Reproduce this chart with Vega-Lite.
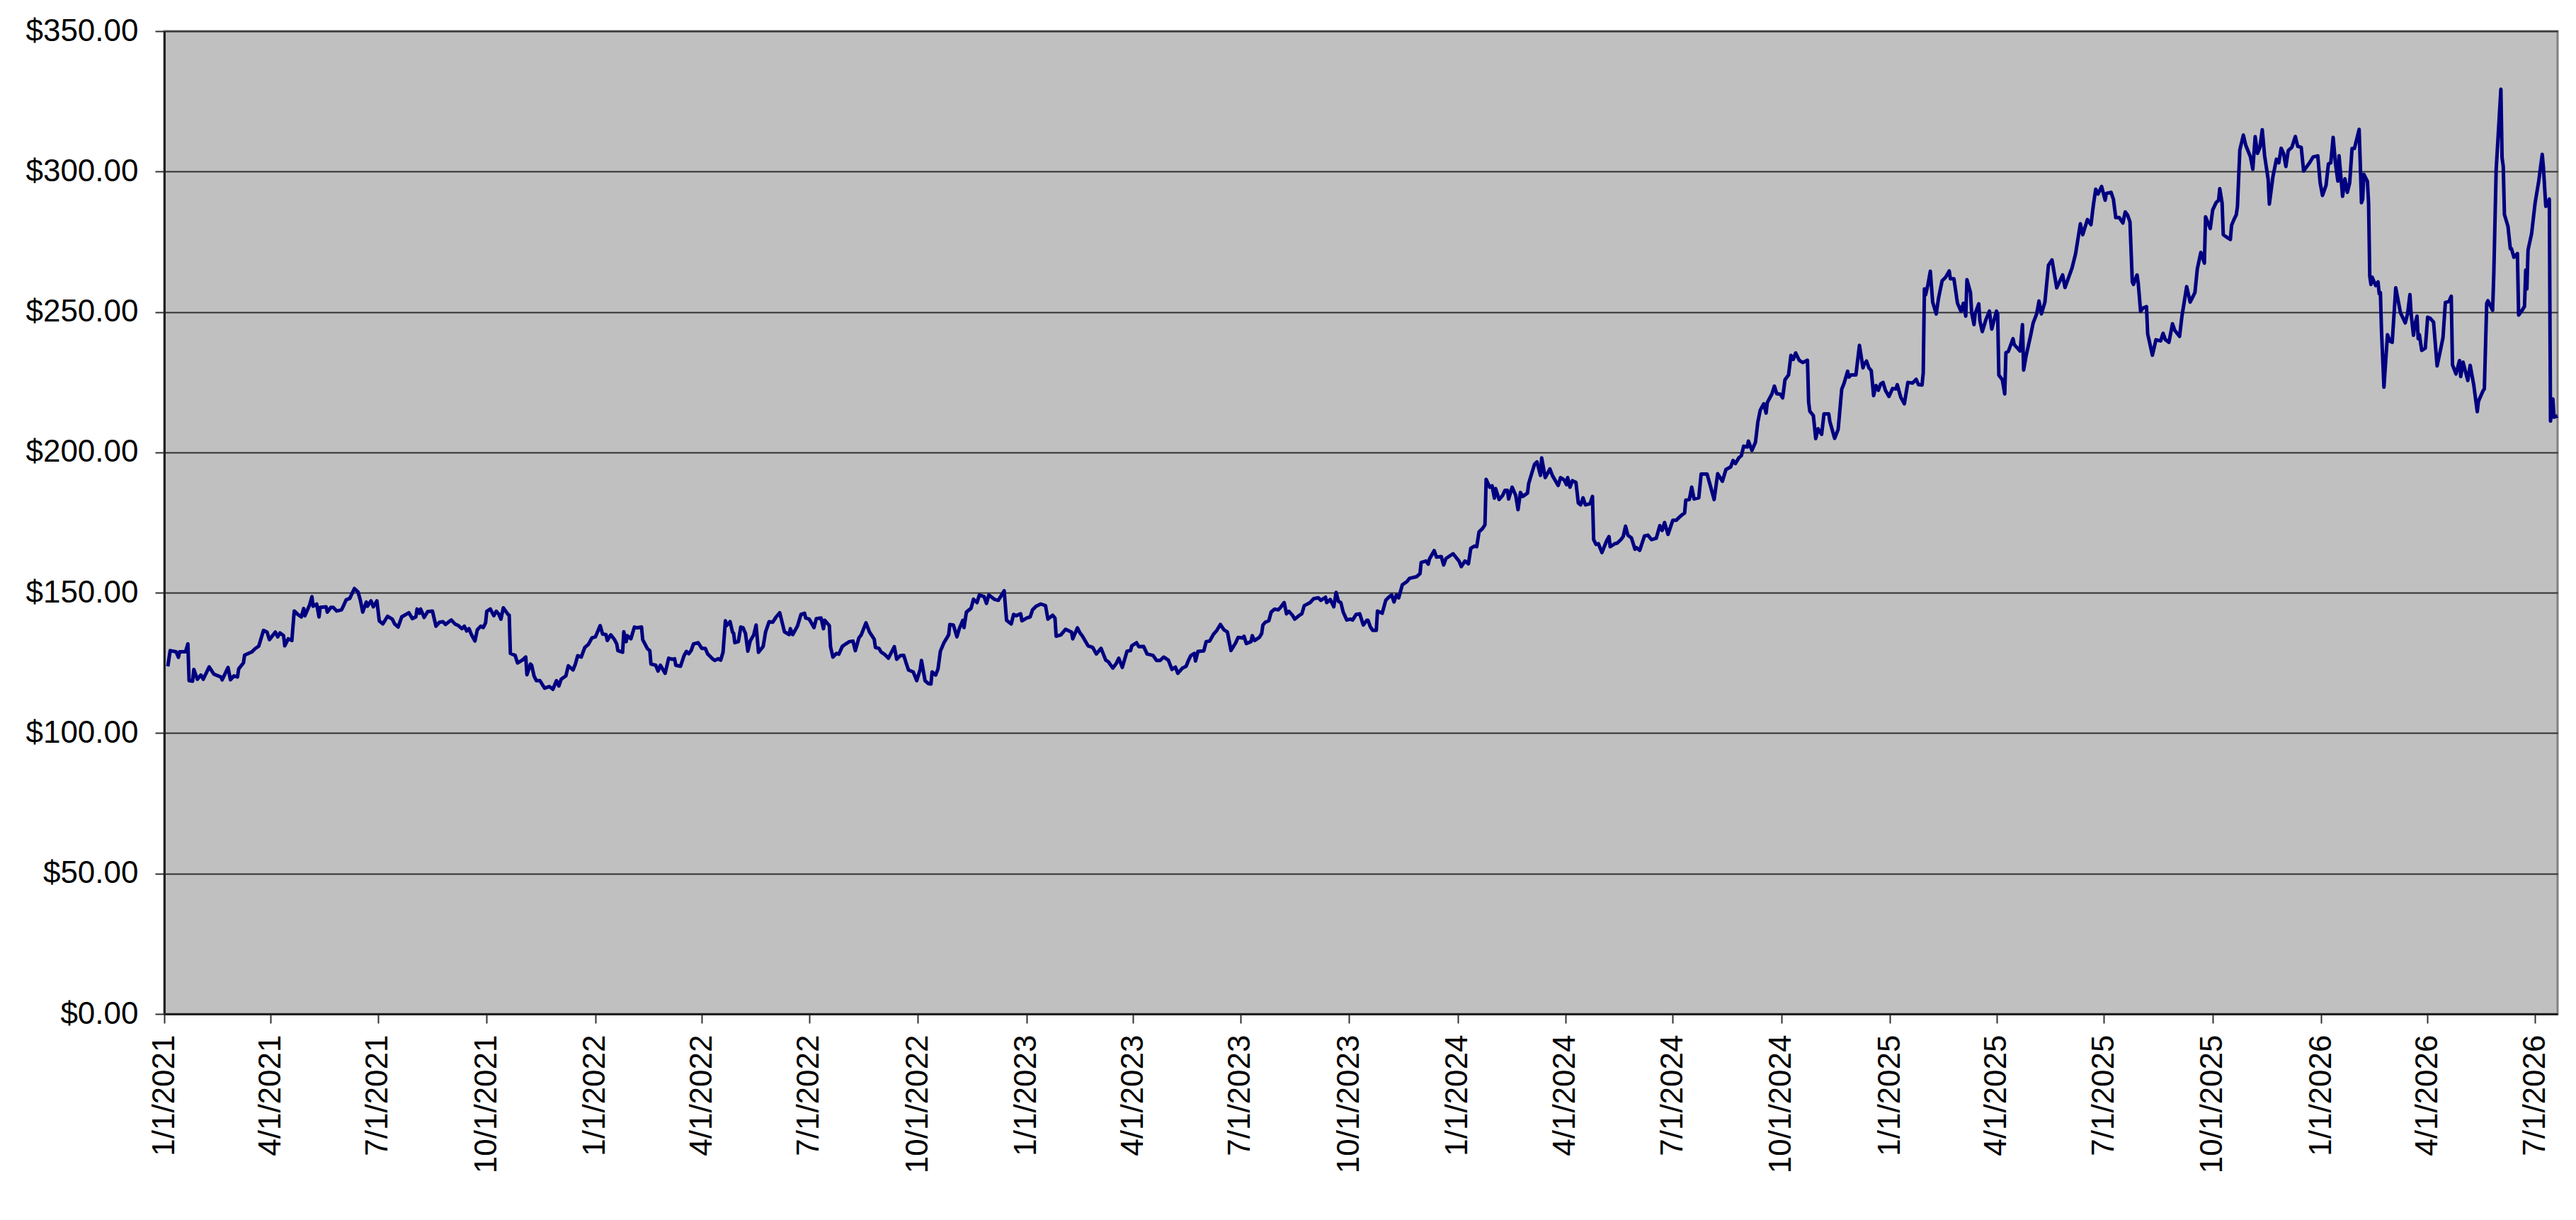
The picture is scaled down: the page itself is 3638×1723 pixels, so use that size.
{
  "$schema": "https://vega.github.io/schema/vega-lite/v6.json",
  "description": "Daily closing price, 2021 to mid-2026",
  "autosize": "none",
  "width": 3380,
  "height": 1388,
  "padding": {"left": 232, "top": 44, "right": 26, "bottom": 291},
  "background": "white",
  "config": {
    "font": "Liberation Sans",
    "view": {"fill": "#c0c0c0", "stroke": "#808080", "strokeWidth": 3},
    "axis": {
      "domainColor": "#202020",
      "domainWidth": 3,
      "tickColor": "#303030",
      "tickWidth": 2,
      "tickSize": 13,
      "labelColor": "black",
      "labelFont": "Liberation Sans",
      "labelFontSize": 44,
      "labelLimit": 0,
      "title": null
    }
  },
  "data": {
    "values": [
      {"date": "2021-01-04", "price": 123.8}, {"date": "2021-01-06", "price": 129.4}, {"date": "2021-01-11", "price": 129}, {"date": "2021-01-13", "price": 127}, {"date": "2021-01-14", "price": 129}, {"date": "2021-01-19", "price": 129}, {"date": "2021-01-21", "price": 131.8}, {"date": "2021-01-22", "price": 118.7}, {"date": "2021-01-25", "price": 118.5}, {"date": "2021-01-26", "price": 122.7}, {"date": "2021-01-29", "price": 119.2},
      {"date": "2021-02-01", "price": 120.7}, {"date": "2021-02-03", "price": 119.2}, {"date": "2021-02-08", "price": 123.6}, {"date": "2021-02-12", "price": 121}, {"date": "2021-02-18", "price": 120}, {"date": "2021-02-19", "price": 119}, {"date": "2021-02-24", "price": 123.4}, {"date": "2021-02-26", "price": 119},
      {"date": "2021-03-01", "price": 120.4}, {"date": "2021-03-04", "price": 120}, {"date": "2021-03-05", "price": 122.9}, {"date": "2021-03-09", "price": 125}, {"date": "2021-03-10", "price": 127.8}, {"date": "2021-03-16", "price": 128.9}, {"date": "2021-03-19", "price": 130.1}, {"date": "2021-03-22", "price": 131}, {"date": "2021-03-26", "price": 136.6}, {"date": "2021-03-29", "price": 136}, {"date": "2021-03-31", "price": 133.3},
      {"date": "2021-04-05", "price": 136}, {"date": "2021-04-07", "price": 134.3}, {"date": "2021-04-09", "price": 135.7}, {"date": "2021-04-12", "price": 134.7}, {"date": "2021-04-13", "price": 131.1}, {"date": "2021-04-16", "price": 133.6}, {"date": "2021-04-19", "price": 133}, {"date": "2021-04-21", "price": 143.5}, {"date": "2021-04-24", "price": 142.3}, {"date": "2021-04-27", "price": 141.4}, {"date": "2021-04-29", "price": 144.4}, {"date": "2021-04-30", "price": 141.8},
      {"date": "2021-05-04", "price": 145.6}, {"date": "2021-05-06", "price": 148.6}, {"date": "2021-05-07", "price": 145.2}, {"date": "2021-05-10", "price": 146}, {"date": "2021-05-12", "price": 141.4}, {"date": "2021-05-13", "price": 144.8}, {"date": "2021-05-18", "price": 145}, {"date": "2021-05-19", "price": 143.1}, {"date": "2021-05-22", "price": 144.8}, {"date": "2021-05-24", "price": 144.8}, {"date": "2021-05-27", "price": 143.5}, {"date": "2021-05-31", "price": 143.9},
      {"date": "2021-06-02", "price": 145.6}, {"date": "2021-06-04", "price": 147.5}, {"date": "2021-06-07", "price": 148}, {"date": "2021-06-09", "price": 149.8}, {"date": "2021-06-11", "price": 151.5}, {"date": "2021-06-14", "price": 150.3}, {"date": "2021-06-16", "price": 147.3}, {"date": "2021-06-18", "price": 143.1}, {"date": "2021-06-21", "price": 146.7}, {"date": "2021-06-22", "price": 145.2}, {"date": "2021-06-25", "price": 147.1}, {"date": "2021-06-27", "price": 145}, {"date": "2021-06-30", "price": 147.1},
      {"date": "2021-07-02", "price": 140}, {"date": "2021-07-05", "price": 138.9}, {"date": "2021-07-09", "price": 141.6}, {"date": "2021-07-13", "price": 140.6}, {"date": "2021-07-15", "price": 138.9}, {"date": "2021-07-18", "price": 137.8}, {"date": "2021-07-21", "price": 141.4}, {"date": "2021-07-25", "price": 142.4}, {"date": "2021-07-27", "price": 142.9}, {"date": "2021-07-30", "price": 140.8},
      {"date": "2021-08-02", "price": 141.4}, {"date": "2021-08-03", "price": 144.2}, {"date": "2021-08-05", "price": 142.7}, {"date": "2021-08-06", "price": 144.2}, {"date": "2021-08-09", "price": 141.2}, {"date": "2021-08-12", "price": 143.3}, {"date": "2021-08-16", "price": 143.5}, {"date": "2021-08-19", "price": 138.1}, {"date": "2021-08-22", "price": 139.5}, {"date": "2021-08-25", "price": 139.7}, {"date": "2021-08-27", "price": 138.7}, {"date": "2021-08-30", "price": 139.7},
      {"date": "2021-09-01", "price": 140.3}, {"date": "2021-09-04", "price": 138.9}, {"date": "2021-09-07", "price": 138.3}, {"date": "2021-09-10", "price": 137.2}, {"date": "2021-09-12", "price": 138.1}, {"date": "2021-09-14", "price": 136.4}, {"date": "2021-09-16", "price": 137.2}, {"date": "2021-09-18", "price": 135.1}, {"date": "2021-09-21", "price": 132.8}, {"date": "2021-09-23", "price": 136.8}, {"date": "2021-09-26", "price": 138.1}, {"date": "2021-09-28", "price": 137.6}, {"date": "2021-09-30", "price": 139.3},
      {"date": "2021-10-01", "price": 143.4}, {"date": "2021-10-04", "price": 144.2}, {"date": "2021-10-07", "price": 141.8}, {"date": "2021-10-09", "price": 143.4}, {"date": "2021-10-11", "price": 142.5}, {"date": "2021-10-13", "price": 140.6}, {"date": "2021-10-15", "price": 144.6}, {"date": "2021-10-19", "price": 142.3}, {"date": "2021-10-20", "price": 142}, {"date": "2021-10-21", "price": 128.4}, {"date": "2021-10-25", "price": 127.7}, {"date": "2021-10-27", "price": 125}, {"date": "2021-10-31", "price": 126},
      {"date": "2021-11-03", "price": 127.1}, {"date": "2021-11-04", "price": 120.8}, {"date": "2021-11-07", "price": 124.6}, {"date": "2021-11-08", "price": 124.2}, {"date": "2021-11-10", "price": 120.4}, {"date": "2021-11-12", "price": 118.7}, {"date": "2021-11-15", "price": 118.7}, {"date": "2021-11-19", "price": 116}, {"date": "2021-11-23", "price": 116.6}, {"date": "2021-11-26", "price": 115.6}, {"date": "2021-11-29", "price": 118.7},
      {"date": "2021-12-01", "price": 116.8}, {"date": "2021-12-03", "price": 119.2}, {"date": "2021-12-07", "price": 120.4}, {"date": "2021-12-09", "price": 124}, {"date": "2021-12-13", "price": 122.5}, {"date": "2021-12-15", "price": 124.6}, {"date": "2021-12-17", "price": 127.6}, {"date": "2021-12-20", "price": 127.1}, {"date": "2021-12-23", "price": 130.5}, {"date": "2021-12-26", "price": 131.6}, {"date": "2021-12-29", "price": 133.9},
      {"date": "2022-01-01", "price": 134.3}, {"date": "2022-01-05", "price": 138.3}, {"date": "2022-01-07", "price": 135.3}, {"date": "2022-01-10", "price": 135.1}, {"date": "2022-01-11", "price": 133}, {"date": "2022-01-14", "price": 135}, {"date": "2022-01-17", "price": 133.4}, {"date": "2022-01-19", "price": 131.8}, {"date": "2022-01-20", "price": 129.4}, {"date": "2022-01-24", "price": 128.8}, {"date": "2022-01-25", "price": 136.1}, {"date": "2022-01-27", "price": 132.6}, {"date": "2022-01-28", "price": 134.7}, {"date": "2022-01-31", "price": 133.6},
      {"date": "2022-02-03", "price": 137.8}, {"date": "2022-02-05", "price": 137.5}, {"date": "2022-02-09", "price": 137.8}, {"date": "2022-02-10", "price": 133.3}, {"date": "2022-02-14", "price": 130.1}, {"date": "2022-02-16", "price": 129.4}, {"date": "2022-02-17", "price": 124.6}, {"date": "2022-02-21", "price": 124.2}, {"date": "2022-02-23", "price": 122.1}, {"date": "2022-02-25", "price": 124.2},
      {"date": "2022-03-01", "price": 121.3}, {"date": "2022-03-04", "price": 126.7}, {"date": "2022-03-07", "price": 126.3}, {"date": "2022-03-09", "price": 126.5}, {"date": "2022-03-10", "price": 124.2}, {"date": "2022-03-14", "price": 123.8}, {"date": "2022-03-17", "price": 127.6}, {"date": "2022-03-19", "price": 129.1}, {"date": "2022-03-21", "price": 128.3}, {"date": "2022-03-23", "price": 129.4}, {"date": "2022-03-25", "price": 131.8}, {"date": "2022-03-29", "price": 132.2},
      {"date": "2022-04-01", "price": 130.2}, {"date": "2022-04-04", "price": 130.2}, {"date": "2022-04-06", "price": 128.2}, {"date": "2022-04-10", "price": 126.5}, {"date": "2022-04-12", "price": 125.9}, {"date": "2022-04-15", "price": 126.5}, {"date": "2022-04-17", "price": 126}, {"date": "2022-04-19", "price": 128.8}, {"date": "2022-04-21", "price": 140}, {"date": "2022-04-22", "price": 138.3}, {"date": "2022-04-25", "price": 139.7}, {"date": "2022-04-27", "price": 136}, {"date": "2022-04-28", "price": 135.5}, {"date": "2022-04-29", "price": 132.2},
      {"date": "2022-05-02", "price": 132.6}, {"date": "2022-05-04", "price": 137.8}, {"date": "2022-05-06", "price": 137.5}, {"date": "2022-05-08", "price": 135.5}, {"date": "2022-05-10", "price": 129.2}, {"date": "2022-05-12", "price": 132.8}, {"date": "2022-05-15", "price": 135}, {"date": "2022-05-17", "price": 138.5}, {"date": "2022-05-19", "price": 128.8}, {"date": "2022-05-23", "price": 130.9}, {"date": "2022-05-25", "price": 136}, {"date": "2022-05-28", "price": 139.7}, {"date": "2022-05-31", "price": 139.5},
      {"date": "2022-06-03", "price": 141.4}, {"date": "2022-06-06", "price": 142.9}, {"date": "2022-06-10", "price": 136.1}, {"date": "2022-06-14", "price": 135.1}, {"date": "2022-06-15", "price": 137.2}, {"date": "2022-06-17", "price": 135.1}, {"date": "2022-06-21", "price": 138.1}, {"date": "2022-06-24", "price": 142.3}, {"date": "2022-06-27", "price": 142.7}, {"date": "2022-06-28", "price": 141},
      {"date": "2022-07-01", "price": 140.6}, {"date": "2022-07-05", "price": 137.6}, {"date": "2022-07-07", "price": 140.8}, {"date": "2022-07-11", "price": 141}, {"date": "2022-07-13", "price": 137.2}, {"date": "2022-07-14", "price": 140.2}, {"date": "2022-07-18", "price": 138.3}, {"date": "2022-07-19", "price": 130.8}, {"date": "2022-07-21", "price": 127.1}, {"date": "2022-07-24", "price": 128.4}, {"date": "2022-07-26", "price": 128.1}, {"date": "2022-07-29", "price": 130.9},
      {"date": "2022-08-01", "price": 131.8}, {"date": "2022-08-04", "price": 132.6}, {"date": "2022-08-07", "price": 132.8}, {"date": "2022-08-09", "price": 129.4}, {"date": "2022-08-12", "price": 133.9}, {"date": "2022-08-14", "price": 135}, {"date": "2022-08-18", "price": 139.3}, {"date": "2022-08-21", "price": 136}, {"date": "2022-08-25", "price": 133.4}, {"date": "2022-08-26", "price": 130.5}, {"date": "2022-08-29", "price": 130.2}, {"date": "2022-08-31", "price": 128.8},
      {"date": "2022-09-03", "price": 128}, {"date": "2022-09-06", "price": 126.7}, {"date": "2022-09-11", "price": 130.8}, {"date": "2022-09-13", "price": 126.3}, {"date": "2022-09-16", "price": 127.6}, {"date": "2022-09-19", "price": 127.7}, {"date": "2022-09-21", "price": 125}, {"date": "2022-09-23", "price": 122.5}, {"date": "2022-09-27", "price": 121.8}, {"date": "2022-09-30", "price": 118.7},
      {"date": "2022-10-03", "price": 122.9}, {"date": "2022-10-04", "price": 125.9}, {"date": "2022-10-07", "price": 118.7}, {"date": "2022-10-10", "price": 117.6}, {"date": "2022-10-12", "price": 117.5}, {"date": "2022-10-13", "price": 121.8}, {"date": "2022-10-16", "price": 120.7}, {"date": "2022-10-18", "price": 122.9}, {"date": "2022-10-20", "price": 129.2}, {"date": "2022-10-23", "price": 132.2}, {"date": "2022-10-27", "price": 135}, {"date": "2022-10-28", "price": 138.7}, {"date": "2022-10-31", "price": 138.5},
      {"date": "2022-11-03", "price": 134.3}, {"date": "2022-11-05", "price": 137.2}, {"date": "2022-11-08", "price": 140.2}, {"date": "2022-11-09", "price": 137.6}, {"date": "2022-11-11", "price": 143.1}, {"date": "2022-11-15", "price": 144.5}, {"date": "2022-11-17", "price": 147.7}, {"date": "2022-11-20", "price": 146.5}, {"date": "2022-11-22", "price": 149.2}, {"date": "2022-11-26", "price": 148.6}, {"date": "2022-11-28", "price": 146.2}, {"date": "2022-11-30", "price": 149.2},
      {"date": "2022-12-05", "price": 147.6}, {"date": "2022-12-08", "price": 147.3}, {"date": "2022-12-13", "price": 150.7}, {"date": "2022-12-15", "price": 140.2}, {"date": "2022-12-19", "price": 138.9}, {"date": "2022-12-21", "price": 142.3}, {"date": "2022-12-23", "price": 141.8}, {"date": "2022-12-27", "price": 142.5}, {"date": "2022-12-28", "price": 140},
      {"date": "2023-01-01", "price": 141}, {"date": "2023-01-04", "price": 141.4}, {"date": "2023-01-06", "price": 143.9}, {"date": "2023-01-09", "price": 145.2}, {"date": "2023-01-13", "price": 146}, {"date": "2023-01-17", "price": 145.4}, {"date": "2023-01-19", "price": 140.6}, {"date": "2023-01-23", "price": 142}, {"date": "2023-01-25", "price": 141}, {"date": "2023-01-26", "price": 134.5}, {"date": "2023-01-30", "price": 135},
      {"date": "2023-02-03", "price": 137}, {"date": "2023-02-08", "price": 136}, {"date": "2023-02-09", "price": 133.6}, {"date": "2023-02-13", "price": 137.5}, {"date": "2023-02-15", "price": 135.8}, {"date": "2023-02-17", "price": 134.7}, {"date": "2023-02-22", "price": 131.1}, {"date": "2023-02-26", "price": 130.5},
      {"date": "2023-03-01", "price": 128.2}, {"date": "2023-03-05", "price": 130.2}, {"date": "2023-03-09", "price": 126}, {"date": "2023-03-11", "price": 125.5}, {"date": "2023-03-15", "price": 123.2}, {"date": "2023-03-18", "price": 124.9}, {"date": "2023-03-20", "price": 126.7}, {"date": "2023-03-23", "price": 123.4}, {"date": "2023-03-27", "price": 129.2}, {"date": "2023-03-30", "price": 129.4}, {"date": "2023-03-31", "price": 131.1},
      {"date": "2023-04-04", "price": 132.2}, {"date": "2023-04-06", "price": 130.8}, {"date": "2023-04-10", "price": 130.9}, {"date": "2023-04-13", "price": 128.2}, {"date": "2023-04-18", "price": 127.7}, {"date": "2023-04-21", "price": 125.9}, {"date": "2023-04-24", "price": 125.9}, {"date": "2023-04-27", "price": 127.1},
      {"date": "2023-05-01", "price": 126}, {"date": "2023-05-04", "price": 122.7}, {"date": "2023-05-07", "price": 123.5}, {"date": "2023-05-09", "price": 121.3}, {"date": "2023-05-13", "price": 123.2}, {"date": "2023-05-16", "price": 123.8}, {"date": "2023-05-18", "price": 125.9}, {"date": "2023-05-20", "price": 127.6}, {"date": "2023-05-23", "price": 128.4}, {"date": "2023-05-24", "price": 125.7}, {"date": "2023-05-26", "price": 129.1}, {"date": "2023-05-31", "price": 129.3},
      {"date": "2023-06-02", "price": 132.6}, {"date": "2023-06-05", "price": 132.8}, {"date": "2023-06-08", "price": 135.1}, {"date": "2023-06-11", "price": 136.6}, {"date": "2023-06-14", "price": 138.7}, {"date": "2023-06-17", "price": 136.8}, {"date": "2023-06-20", "price": 136}, {"date": "2023-06-23", "price": 129.4}, {"date": "2023-06-27", "price": 132.2}, {"date": "2023-06-29", "price": 134.1},
      {"date": "2023-07-03", "price": 133.9}, {"date": "2023-07-04", "price": 134.5}, {"date": "2023-07-06", "price": 131.9}, {"date": "2023-07-10", "price": 132.6}, {"date": "2023-07-11", "price": 134.7}, {"date": "2023-07-13", "price": 133}, {"date": "2023-07-17", "price": 134.1}, {"date": "2023-07-19", "price": 135.5}, {"date": "2023-07-20", "price": 138.5}, {"date": "2023-07-22", "price": 139.5}, {"date": "2023-07-25", "price": 140}, {"date": "2023-07-27", "price": 143.1}, {"date": "2023-07-30", "price": 144.2},
      {"date": "2023-08-02", "price": 143.9}, {"date": "2023-08-04", "price": 144.8}, {"date": "2023-08-07", "price": 146.5}, {"date": "2023-08-09", "price": 142.5}, {"date": "2023-08-11", "price": 143.4}, {"date": "2023-08-14", "price": 142}, {"date": "2023-08-16", "price": 140.6}, {"date": "2023-08-20", "price": 142}, {"date": "2023-08-22", "price": 142.5}, {"date": "2023-08-24", "price": 145.4}, {"date": "2023-08-29", "price": 146.5},
      {"date": "2023-09-01", "price": 147.9}, {"date": "2023-09-05", "price": 148.2}, {"date": "2023-09-07", "price": 147.3}, {"date": "2023-09-11", "price": 148.4}, {"date": "2023-09-12", "price": 146.5}, {"date": "2023-09-15", "price": 147.6}, {"date": "2023-09-18", "price": 145}, {"date": "2023-09-20", "price": 150.1}, {"date": "2023-09-22", "price": 146.9}, {"date": "2023-09-24", "price": 146.5}, {"date": "2023-09-26", "price": 143.1}, {"date": "2023-09-29", "price": 140.3},
      {"date": "2023-10-02", "price": 140.6}, {"date": "2023-10-04", "price": 140.3}, {"date": "2023-10-07", "price": 142.3}, {"date": "2023-10-10", "price": 142.5}, {"date": "2023-10-13", "price": 138.5}, {"date": "2023-10-16", "price": 140.2}, {"date": "2023-10-17", "price": 140.2}, {"date": "2023-10-19", "price": 137.8}, {"date": "2023-10-21", "price": 136.6}, {"date": "2023-10-24", "price": 136.6}, {"date": "2023-10-25", "price": 143.5}, {"date": "2023-10-29", "price": 142.7},
      {"date": "2023-11-01", "price": 147.3}, {"date": "2023-11-04", "price": 148.6}, {"date": "2023-11-06", "price": 149.2}, {"date": "2023-11-08", "price": 146.7}, {"date": "2023-11-10", "price": 149.2}, {"date": "2023-11-12", "price": 148.2}, {"date": "2023-11-15", "price": 152.8}, {"date": "2023-11-19", "price": 154}, {"date": "2023-11-21", "price": 155.1}, {"date": "2023-11-27", "price": 155.7}, {"date": "2023-11-30", "price": 156.8},
      {"date": "2023-12-01", "price": 160.8}, {"date": "2023-12-05", "price": 161.3}, {"date": "2023-12-07", "price": 160.2}, {"date": "2023-12-08", "price": 162}, {"date": "2023-12-12", "price": 165}, {"date": "2023-12-14", "price": 162.7}, {"date": "2023-12-18", "price": 162.9}, {"date": "2023-12-20", "price": 159.9}, {"date": "2023-12-22", "price": 162.2}, {"date": "2023-12-28", "price": 163.9},
      {"date": "2024-01-02", "price": 161.3}, {"date": "2024-01-04", "price": 159.3}, {"date": "2024-01-07", "price": 161.3}, {"date": "2024-01-10", "price": 160.3}, {"date": "2024-01-12", "price": 165.8}, {"date": "2024-01-15", "price": 166.6}, {"date": "2024-01-17", "price": 166.4}, {"date": "2024-01-19", "price": 171.7}, {"date": "2024-01-22", "price": 172.9}, {"date": "2024-01-24", "price": 174.2}, {"date": "2024-01-25", "price": 190.4}, {"date": "2024-01-28", "price": 187.6}, {"date": "2024-01-30", "price": 188.1},
      {"date": "2024-02-01", "price": 183.7}, {"date": "2024-02-02", "price": 187.1}, {"date": "2024-02-05", "price": 183.2}, {"date": "2024-02-08", "price": 184.7}, {"date": "2024-02-10", "price": 186.5}, {"date": "2024-02-12", "price": 186.5}, {"date": "2024-02-13", "price": 183.4}, {"date": "2024-02-16", "price": 187.6}, {"date": "2024-02-19", "price": 184.7}, {"date": "2024-02-21", "price": 179.6}, {"date": "2024-02-23", "price": 185.7}, {"date": "2024-02-25", "price": 184.3}, {"date": "2024-02-29", "price": 185.5},
      {"date": "2024-03-01", "price": 188.9}, {"date": "2024-03-04", "price": 193.1}, {"date": "2024-03-06", "price": 195.8}, {"date": "2024-03-08", "price": 196.6}, {"date": "2024-03-11", "price": 191.8}, {"date": "2024-03-12", "price": 198}, {"date": "2024-03-15", "price": 191}, {"date": "2024-03-19", "price": 194.1}, {"date": "2024-03-21", "price": 191.8}, {"date": "2024-03-26", "price": 188.2}, {"date": "2024-03-28", "price": 191}, {"date": "2024-03-31", "price": 190.2},
      {"date": "2024-04-02", "price": 188.5}, {"date": "2024-04-03", "price": 191}, {"date": "2024-04-05", "price": 187.6}, {"date": "2024-04-07", "price": 189.9}, {"date": "2024-04-10", "price": 189.3}, {"date": "2024-04-11", "price": 185.7}, {"date": "2024-04-12", "price": 182}, {"date": "2024-04-14", "price": 181.3}, {"date": "2024-04-16", "price": 183.8}, {"date": "2024-04-18", "price": 181.3}, {"date": "2024-04-22", "price": 181.7}, {"date": "2024-04-24", "price": 184.3}, {"date": "2024-04-25", "price": 168.9}, {"date": "2024-04-27", "price": 167.2}, {"date": "2024-04-29", "price": 167.5},
      {"date": "2024-05-02", "price": 164.3}, {"date": "2024-05-06", "price": 168.5}, {"date": "2024-05-08", "price": 170}, {"date": "2024-05-09", "price": 166.4}, {"date": "2024-05-13", "price": 167.5}, {"date": "2024-05-15", "price": 167.7}, {"date": "2024-05-18", "price": 168.9}, {"date": "2024-05-20", "price": 170}, {"date": "2024-05-22", "price": 173.7}, {"date": "2024-05-24", "price": 170.5}, {"date": "2024-05-27", "price": 169.5}, {"date": "2024-05-30", "price": 165.5}, {"date": "2024-05-31", "price": 166.1},
      {"date": "2024-06-03", "price": 165.1}, {"date": "2024-06-07", "price": 170.2}, {"date": "2024-06-10", "price": 170.5}, {"date": "2024-06-13", "price": 168.9}, {"date": "2024-06-17", "price": 169.4}, {"date": "2024-06-20", "price": 173.9}, {"date": "2024-06-22", "price": 172.2}, {"date": "2024-06-24", "price": 175}, {"date": "2024-06-27", "price": 170.8},
      {"date": "2024-07-01", "price": 175.8}, {"date": "2024-07-04", "price": 175.8}, {"date": "2024-07-06", "price": 176.7}, {"date": "2024-07-09", "price": 177.8}, {"date": "2024-07-11", "price": 178.4}, {"date": "2024-07-12", "price": 183}, {"date": "2024-07-15", "price": 183.2}, {"date": "2024-07-17", "price": 187.6}, {"date": "2024-07-19", "price": 183.4}, {"date": "2024-07-23", "price": 183.8}, {"date": "2024-07-25", "price": 192.3}, {"date": "2024-07-30", "price": 192.3},
      {"date": "2024-08-01", "price": 189.3}, {"date": "2024-08-05", "price": 183.2}, {"date": "2024-08-08", "price": 192.4}, {"date": "2024-08-12", "price": 189.7}, {"date": "2024-08-15", "price": 193.9}, {"date": "2024-08-19", "price": 194.8}, {"date": "2024-08-21", "price": 197.1}, {"date": "2024-08-23", "price": 196}, {"date": "2024-08-26", "price": 198.1}, {"date": "2024-08-28", "price": 198.8}, {"date": "2024-08-30", "price": 202.2},
      {"date": "2024-09-02", "price": 201.9}, {"date": "2024-09-03", "price": 204}, {"date": "2024-09-06", "price": 200.7}, {"date": "2024-09-09", "price": 203.6}, {"date": "2024-09-11", "price": 210.8}, {"date": "2024-09-13", "price": 215}, {"date": "2024-09-16", "price": 217.3}, {"date": "2024-09-18", "price": 214}, {"date": "2024-09-19", "price": 217.7}, {"date": "2024-09-23", "price": 220.9}, {"date": "2024-09-25", "price": 223.6}, {"date": "2024-09-27", "price": 220.9}, {"date": "2024-09-30", "price": 220.7},
      {"date": "2024-10-02", "price": 219.4}, {"date": "2024-10-04", "price": 225.9}, {"date": "2024-10-07", "price": 227.6}, {"date": "2024-10-09", "price": 234.5}, {"date": "2024-10-11", "price": 233.1}, {"date": "2024-10-13", "price": 235.4}, {"date": "2024-10-16", "price": 232.8}, {"date": "2024-10-19", "price": 232}, {"date": "2024-10-23", "price": 232.8}, {"date": "2024-10-24", "price": 217.9}, {"date": "2024-10-25", "price": 214.6}, {"date": "2024-10-28", "price": 213.1}, {"date": "2024-10-30", "price": 204.9},
      {"date": "2024-11-01", "price": 208.4}, {"date": "2024-11-04", "price": 206.4}, {"date": "2024-11-06", "price": 213.7}, {"date": "2024-11-10", "price": 213.7}, {"date": "2024-11-11", "price": 210.9}, {"date": "2024-11-15", "price": 205}, {"date": "2024-11-18", "price": 208.2}, {"date": "2024-11-21", "price": 222.5}, {"date": "2024-11-23", "price": 224.6}, {"date": "2024-11-26", "price": 228.9}, {"date": "2024-11-27", "price": 226.8}, {"date": "2024-11-29", "price": 227.6},
      {"date": "2024-12-03", "price": 227.6}, {"date": "2024-12-06", "price": 238.1}, {"date": "2024-12-09", "price": 230.1}, {"date": "2024-12-10", "price": 231.4}, {"date": "2024-12-12", "price": 232.5}, {"date": "2024-12-14", "price": 230.1}, {"date": "2024-12-16", "price": 229.1}, {"date": "2024-12-18", "price": 220.2}, {"date": "2024-12-20", "price": 223.8}, {"date": "2024-12-22", "price": 222.1}, {"date": "2024-12-24", "price": 224.4}, {"date": "2024-12-26", "price": 224.9}, {"date": "2024-12-28", "price": 222.1}, {"date": "2024-12-31", "price": 219.9},
      {"date": "2025-01-03", "price": 222.7}, {"date": "2025-01-06", "price": 222.6}, {"date": "2025-01-07", "price": 224.1}, {"date": "2025-01-10", "price": 219.6}, {"date": "2025-01-13", "price": 217.3}, {"date": "2025-01-16", "price": 224.9}, {"date": "2025-01-20", "price": 224.7}, {"date": "2025-01-23", "price": 226}, {"date": "2025-01-25", "price": 224.1}, {"date": "2025-01-28", "price": 224}, {"date": "2025-01-29", "price": 228.3}, {"date": "2025-01-30", "price": 258.2}, {"date": "2025-01-31", "price": 256.1},
      {"date": "2025-02-02", "price": 259.8}, {"date": "2025-02-04", "price": 264.5}, {"date": "2025-02-06", "price": 253.5}, {"date": "2025-02-09", "price": 249.3}, {"date": "2025-02-11", "price": 255}, {"date": "2025-02-14", "price": 261.1}, {"date": "2025-02-17", "price": 262.4}, {"date": "2025-02-20", "price": 264.6}, {"date": "2025-02-21", "price": 261.8}, {"date": "2025-02-24", "price": 261.8}, {"date": "2025-02-27", "price": 253.1},
      {"date": "2025-03-02", "price": 250.2}, {"date": "2025-03-04", "price": 253.1}, {"date": "2025-03-06", "price": 248.5}, {"date": "2025-03-07", "price": 261.5}, {"date": "2025-03-10", "price": 256.9}, {"date": "2025-03-11", "price": 249.7}, {"date": "2025-03-13", "price": 245.5}, {"date": "2025-03-14", "price": 249.5}, {"date": "2025-03-17", "price": 252.9}, {"date": "2025-03-18", "price": 246.8}, {"date": "2025-03-20", "price": 243}, {"date": "2025-03-23", "price": 247.2}, {"date": "2025-03-26", "price": 250.3}, {"date": "2025-03-28", "price": 243.9},
      {"date": "2025-04-01", "price": 250.3}, {"date": "2025-04-02", "price": 249.3}, {"date": "2025-04-03", "price": 227.5}, {"date": "2025-04-06", "price": 225.8}, {"date": "2025-04-08", "price": 220.8}, {"date": "2025-04-09", "price": 235.5}, {"date": "2025-04-11", "price": 235.9}, {"date": "2025-04-15", "price": 240.5}, {"date": "2025-04-16", "price": 238.4}, {"date": "2025-04-21", "price": 236.1}, {"date": "2025-04-23", "price": 245.5}, {"date": "2025-04-24", "price": 229.3}, {"date": "2025-04-26", "price": 234.2}, {"date": "2025-04-30", "price": 241.8},
      {"date": "2025-05-02", "price": 246}, {"date": "2025-05-05", "price": 249.3}, {"date": "2025-05-07", "price": 253.9}, {"date": "2025-05-09", "price": 249.3}, {"date": "2025-05-12", "price": 253.5}, {"date": "2025-05-15", "price": 266.6}, {"date": "2025-05-18", "price": 268.5}, {"date": "2025-05-22", "price": 258.6}, {"date": "2025-05-27", "price": 263.2}, {"date": "2025-05-29", "price": 258.7},
      {"date": "2025-06-04", "price": 265.7}, {"date": "2025-06-07", "price": 270.8}, {"date": "2025-06-11", "price": 281.4}, {"date": "2025-06-13", "price": 277.5}, {"date": "2025-06-17", "price": 282.9}, {"date": "2025-06-20", "price": 281.1}, {"date": "2025-06-22", "price": 288}, {"date": "2025-06-24", "price": 293.7}, {"date": "2025-06-26", "price": 292}, {"date": "2025-06-29", "price": 294.7},
      {"date": "2025-07-02", "price": 289.8}, {"date": "2025-07-03", "price": 292.2}, {"date": "2025-07-07", "price": 292.6}, {"date": "2025-07-09", "price": 290.1}, {"date": "2025-07-11", "price": 283.6}, {"date": "2025-07-14", "price": 283.6}, {"date": "2025-07-17", "price": 281.7}, {"date": "2025-07-19", "price": 285.6}, {"date": "2025-07-21", "price": 284.5}, {"date": "2025-07-23", "price": 282.1}, {"date": "2025-07-25", "price": 260.7}, {"date": "2025-07-26", "price": 259.8}, {"date": "2025-07-29", "price": 263.2}, {"date": "2025-07-30", "price": 260.3},
      {"date": "2025-08-01", "price": 250.2}, {"date": "2025-08-03", "price": 251.4}, {"date": "2025-08-06", "price": 251.9}, {"date": "2025-08-07", "price": 242.2}, {"date": "2025-08-11", "price": 234.6}, {"date": "2025-08-14", "price": 240.1}, {"date": "2025-08-18", "price": 239.7}, {"date": "2025-08-20", "price": 242.4}, {"date": "2025-08-22", "price": 240.1}, {"date": "2025-08-25", "price": 239.2}, {"date": "2025-08-28", "price": 245.8}, {"date": "2025-08-30", "price": 243.4},
      {"date": "2025-09-03", "price": 241.3}, {"date": "2025-09-05", "price": 248.5}, {"date": "2025-09-09", "price": 259}, {"date": "2025-09-12", "price": 253.5}, {"date": "2025-09-16", "price": 256.9}, {"date": "2025-09-18", "price": 265.3}, {"date": "2025-09-21", "price": 271.2}, {"date": "2025-09-24", "price": 267.4}, {"date": "2025-09-25", "price": 283.9}, {"date": "2025-09-29", "price": 279.7},
      {"date": "2025-10-01", "price": 286.3}, {"date": "2025-10-04", "price": 289}, {"date": "2025-10-06", "price": 289.7}, {"date": "2025-10-07", "price": 293.9}, {"date": "2025-10-09", "price": 288.8}, {"date": "2025-10-10", "price": 277.5}, {"date": "2025-10-13", "price": 276.6}, {"date": "2025-10-16", "price": 275.8}, {"date": "2025-10-17", "price": 280.8}, {"date": "2025-10-19", "price": 282.9}, {"date": "2025-10-21", "price": 284.6}, {"date": "2025-10-22", "price": 287.6}, {"date": "2025-10-24", "price": 307.7}, {"date": "2025-10-27", "price": 313}, {"date": "2025-10-29", "price": 309.4},
      {"date": "2025-11-02", "price": 305.2}, {"date": "2025-11-04", "price": 300.8}, {"date": "2025-11-06", "price": 312.4}, {"date": "2025-11-08", "price": 306.5}, {"date": "2025-11-10", "price": 308.6}, {"date": "2025-11-12", "price": 314.9}, {"date": "2025-11-14", "price": 305.6}, {"date": "2025-11-17", "price": 297.2}, {"date": "2025-11-18", "price": 288.4}, {"date": "2025-11-21", "price": 298.1}, {"date": "2025-11-24", "price": 304.4}, {"date": "2025-11-26", "price": 303.1}, {"date": "2025-11-28", "price": 308.3}, {"date": "2025-11-30", "price": 306.5},
      {"date": "2025-12-02", "price": 301.8}, {"date": "2025-12-04", "price": 307.5}, {"date": "2025-12-07", "price": 308.6}, {"date": "2025-12-10", "price": 312.5}, {"date": "2025-12-12", "price": 309}, {"date": "2025-12-15", "price": 308.6}, {"date": "2025-12-17", "price": 300.2}, {"date": "2025-12-22", "price": 303.1}, {"date": "2025-12-25", "price": 305.2}, {"date": "2025-12-29", "price": 305.6}, {"date": "2025-12-31", "price": 296},
      {"date": "2026-01-02", "price": 291.5}, {"date": "2026-01-05", "price": 295.1}, {"date": "2026-01-07", "price": 302.7}, {"date": "2026-01-09", "price": 303.1}, {"date": "2026-01-11", "price": 312.2}, {"date": "2026-01-13", "price": 302.7}, {"date": "2026-01-15", "price": 296.6}, {"date": "2026-01-16", "price": 305.6}, {"date": "2026-01-19", "price": 291.2}, {"date": "2026-01-21", "price": 297.4}, {"date": "2026-01-23", "price": 292.6}, {"date": "2026-01-25", "price": 296}, {"date": "2026-01-27", "price": 308.2}, {"date": "2026-01-29", "price": 308.2}, {"date": "2026-01-31", "price": 311.6},
      {"date": "2026-02-02", "price": 315}, {"date": "2026-02-03", "price": 302.4}, {"date": "2026-02-04", "price": 288.9}, {"date": "2026-02-05", "price": 290.2}, {"date": "2026-02-06", "price": 299}, {"date": "2026-02-09", "price": 296.5}, {"date": "2026-02-10", "price": 288.9}, {"date": "2026-02-11", "price": 262.8}, {"date": "2026-02-12", "price": 259.8}, {"date": "2026-02-13", "price": 262.4}, {"date": "2026-02-16", "price": 259.4}, {"date": "2026-02-18", "price": 260.7}, {"date": "2026-02-19", "price": 256.5}, {"date": "2026-02-20", "price": 256.9}, {"date": "2026-02-21", "price": 242.6}, {"date": "2026-02-23", "price": 223.2}, {"date": "2026-02-26", "price": 241.9}, {"date": "2026-02-28", "price": 239.6},
      {"date": "2026-03-02", "price": 239.2}, {"date": "2026-03-05", "price": 258.6}, {"date": "2026-03-09", "price": 249.7}, {"date": "2026-03-13", "price": 246.1}, {"date": "2026-03-15", "price": 249.3}, {"date": "2026-03-17", "price": 256.2}, {"date": "2026-03-18", "price": 249.3}, {"date": "2026-03-20", "price": 241.7}, {"date": "2026-03-21", "price": 245.1}, {"date": "2026-03-23", "price": 248.5}, {"date": "2026-03-24", "price": 240.5}, {"date": "2026-03-25", "price": 241.9}, {"date": "2026-03-27", "price": 236.3}, {"date": "2026-03-30", "price": 237.1}, {"date": "2026-03-31", "price": 242.6},
      {"date": "2026-04-01", "price": 248.1}, {"date": "2026-04-03", "price": 247.8}, {"date": "2026-04-06", "price": 246.4}, {"date": "2026-04-09", "price": 230.8}, {"date": "2026-04-12", "price": 236.7}, {"date": "2026-04-14", "price": 240.9}, {"date": "2026-04-16", "price": 253.4}, {"date": "2026-04-19", "price": 253.7}, {"date": "2026-04-21", "price": 255.6}, {"date": "2026-04-22", "price": 231.2}, {"date": "2026-04-25", "price": 227.9}, {"date": "2026-04-28", "price": 232.7}, {"date": "2026-04-29", "price": 227},
      {"date": "2026-05-01", "price": 232.1}, {"date": "2026-05-05", "price": 225.6}, {"date": "2026-05-07", "price": 231}, {"date": "2026-05-10", "price": 224.1}, {"date": "2026-05-13", "price": 214.5}, {"date": "2026-05-14", "price": 218.2}, {"date": "2026-05-18", "price": 222}, {"date": "2026-05-19", "price": 222.6}, {"date": "2026-05-21", "price": 253.1}, {"date": "2026-05-22", "price": 254}, {"date": "2026-05-26", "price": 250.6}, {"date": "2026-05-27", "price": 263.6}, {"date": "2026-05-29", "price": 300.7},
      {"date": "2026-06-02", "price": 329.3}, {"date": "2026-06-03", "price": 304.9}, {"date": "2026-06-04", "price": 301.9}, {"date": "2026-06-05", "price": 284.7}, {"date": "2026-06-08", "price": 280.5}, {"date": "2026-06-10", "price": 272.5}, {"date": "2026-06-11", "price": 272.5}, {"date": "2026-06-13", "price": 269.5}, {"date": "2026-06-16", "price": 270.8}, {"date": "2026-06-17", "price": 248.9}, {"date": "2026-06-20", "price": 250.6}, {"date": "2026-06-22", "price": 252}, {"date": "2026-06-23", "price": 264.9}, {"date": "2026-06-24", "price": 258.2}, {"date": "2026-06-25", "price": 272.1}, {"date": "2026-06-28", "price": 277.9},
      {"date": "2026-07-01", "price": 288.9}, {"date": "2026-07-04", "price": 296.5}, {"date": "2026-07-07", "price": 306.1}, {"date": "2026-07-08", "price": 301.5}, {"date": "2026-07-10", "price": 287.6}, {"date": "2026-07-11", "price": 288}, {"date": "2026-07-13", "price": 290.2}, {"date": "2026-07-14", "price": 211.1}, {"date": "2026-07-16", "price": 219}, {"date": "2026-07-17", "price": 212.5}, {"date": "2026-07-20", "price": 213}
    ]
  },
  "mark": {"type": "line", "color": "#000080", "strokeWidth": 5, "strokeJoin": "round"},
  "encoding": {
    "x": {
      "field": "date",
      "type": "temporal",
      "scale": {
        "type": "utc",
        "domain": [
          {"year": 2021, "month": 1, "date": 1, "utc": true},
          {"year": 2026, "month": 7, "date": 20, "utc": true}
        ]
      },
      "axis": {
        "values": [
          {"year": 2021, "month": 1, "date": 1, "utc": true}, {"year": 2021, "month": 4, "date": 1, "utc": true}, {"year": 2021, "month": 7, "date": 1, "utc": true}, {"year": 2021, "month": 10, "date": 1, "utc": true},
          {"year": 2022, "month": 1, "date": 1, "utc": true}, {"year": 2022, "month": 4, "date": 1, "utc": true}, {"year": 2022, "month": 7, "date": 1, "utc": true}, {"year": 2022, "month": 10, "date": 1, "utc": true},
          {"year": 2023, "month": 1, "date": 1, "utc": true}, {"year": 2023, "month": 4, "date": 1, "utc": true}, {"year": 2023, "month": 7, "date": 1, "utc": true}, {"year": 2023, "month": 10, "date": 1, "utc": true},
          {"year": 2024, "month": 1, "date": 1, "utc": true}, {"year": 2024, "month": 4, "date": 1, "utc": true}, {"year": 2024, "month": 7, "date": 1, "utc": true}, {"year": 2024, "month": 10, "date": 1, "utc": true},
          {"year": 2025, "month": 1, "date": 1, "utc": true}, {"year": 2025, "month": 4, "date": 1, "utc": true}, {"year": 2025, "month": 7, "date": 1, "utc": true}, {"year": 2025, "month": 10, "date": 1, "utc": true},
          {"year": 2026, "month": 1, "date": 1, "utc": true}, {"year": 2026, "month": 4, "date": 1, "utc": true}, {"year": 2026, "month": 7, "date": 1, "utc": true}
        ],
        "labelExpr": "utcFormat(datum.value, '%-m/%-d/%Y')",
        "labelAngle": -90,
        "labelPadding": 16,
        "labelOverlap": false,
        "labelBound": false,
        "labelFlush": false,
        "grid": false
      }
    },
    "y": {
      "field": "price",
      "type": "quantitative",
      "scale": {"domain": [0, 350], "nice": false, "zero": true},
      "axis": {
        "values": [0, 50, 100, 150, 200, 250, 300, 350],
        "format": "$,.2f",
        "labelPadding": 24,
        "labelFlush": false,
        "grid": true,
        "gridColor": "#303030",
        "gridWidth": 2
      }
    }
  }
}
